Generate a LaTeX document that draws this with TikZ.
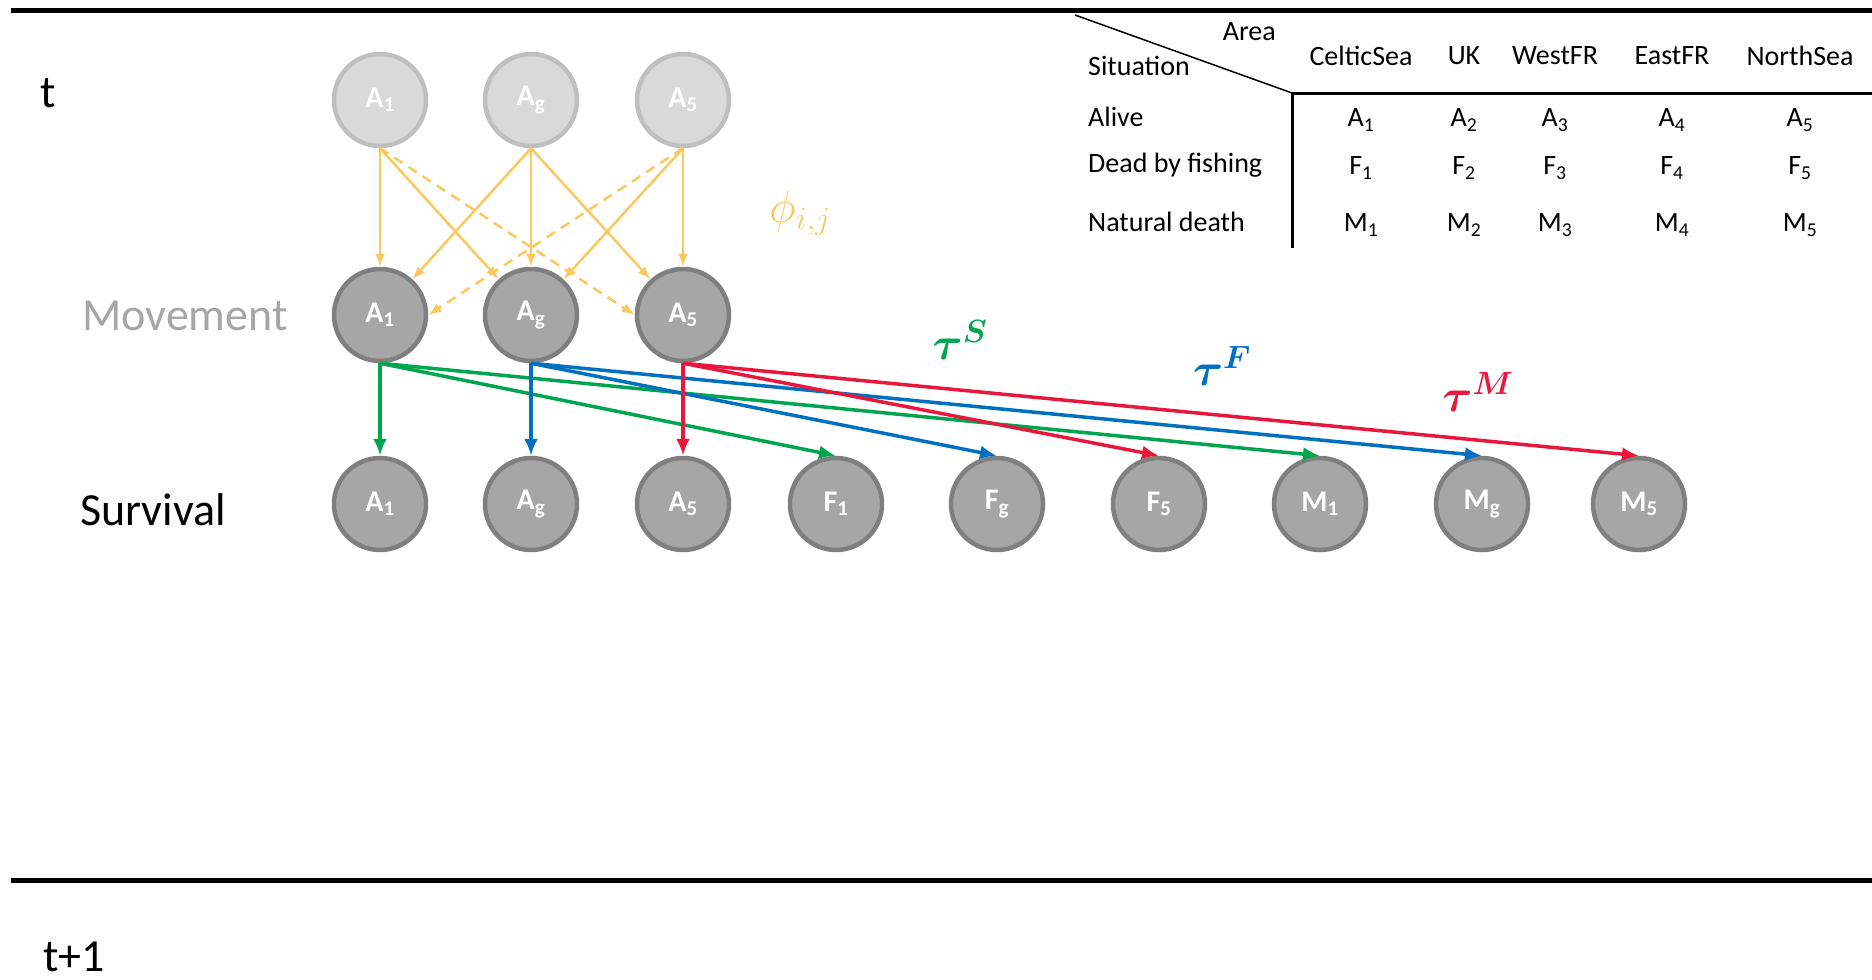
\RequirePackage{fix-cm}
\documentclass[tikz,border=0pt]{standalone}
\usepackage{amsmath,bm}
\usepackage{fontspec}
\setmainfont{Carlito}
\usetikzlibrary{arrows.meta}

\definecolor{phicol}{RGB}{250,200,95}
\definecolor{survgreen}{RGB}{0,165,80}
\definecolor{survblue}{RGB}{0,112,192}
\definecolor{survred}{RGB}{232,24,60}
\definecolor{prevfill}{RGB}{217,217,217}
\definecolor{prevline}{RGB}{191,191,191}
\definecolor{statefill}{RGB}{166,166,166}
\definecolor{stateline}{RGB}{127,127,127}

\tikzset{
  prevnode/.style={circle, minimum size=92pt, inner sep=0pt, fill=prevfill, draw=prevline,
    line width=4.5pt, text=white, font=\fontsize{30}{32}\selectfont\bfseries},
  statenode/.style={prevnode, fill=statefill, draw=stateline},
  movearrow/.style={phicol, line width=2.5pt, -{Latex[length=13pt,width=10pt]}},
  survarrow/.style={line width=3.5pt, -{Latex[length=17pt,width=14pt]}},
  dashline/.style={dash pattern=on 10pt off 7pt},
  biglabel/.style={font=\fontsize{46}{50}\selectfont},
  tabtext/.style={font=\fontsize{28}{30}\selectfont, inner sep=0pt},
}

\begin{document}
\begin{tikzpicture}[x=1pt,y=-1pt]
        \useasboundingbox (0,0) rectangle (1872,980);
        % Time rules
            \draw[line width=5pt] (11,10) -- (1872,10);
            \draw[line width=5pt] (11,880) -- (1872,880);
        % Row labels
            \node[biglabel] (tnow) at (48,93) {t};
            \node[biglabel, text=statefill] (movement) at (185,316) {Movement};
            \node[biglabel] (survival) at (153,510) {Survival};
            \node[biglabel] (tnext) at (74,957) {t+1};
        % States at t
            \node[prevnode] (pA1) at (380,100) {A\textsubscript{1}};
            \node[prevnode] (pAg) at (531,100) {A\textsubscript{g}};
            \node[prevnode] (pA5) at (683,100) {A\textsubscript{5}};
        % States after movement
            \node[statenode] (mA1) at (380,315) {A\textsubscript{1}};
            \node[statenode] (mAg) at (531,315) {A\textsubscript{g}};
            \node[statenode] (mA5) at (683,315) {A\textsubscript{5}};
        % States after survival
            \node[statenode] (sA1) at (380,504) {A\textsubscript{1}};
            \node[statenode] (sAg) at (531,504) {A\textsubscript{g}};
            \node[statenode] (sA5) at (683,504) {A\textsubscript{5}};
            \node[statenode] (sF1) at (836,504) {F\textsubscript{1}};
            \node[statenode] (sFg) at (997,504) {F\textsubscript{g}};
            \node[statenode] (sF5) at (1159,504) {F\textsubscript{5}};
            \node[statenode] (sM1) at (1320,504) {M\textsubscript{1}};
            \node[statenode] (sMg) at (1482,504) {M\textsubscript{g}};
            \node[statenode] (sM5) at (1639,504) {M\textsubscript{5}};
        % Movement arrows
            \draw[movearrow] (pA1.south) -- (mA1);
            \draw[movearrow] (pA1.south) -- (mAg);
            \draw[movearrow, dashline] (pA1.south) -- (mA5.west);
            \draw[movearrow] (pAg.south) -- (mA1);
            \draw[movearrow] (pAg.south) -- (mAg);
            \draw[movearrow] (pAg.south) -- (mA5);
            \draw[movearrow, dashline] (pA5.south) -- (mA1.east);
            \draw[movearrow] (pA5.south) -- (mAg);
            \draw[movearrow] (pA5.south) -- (mA5);
            \node[phicol, font=\fontsize{46}{50}\selectfont] (phi) at (800,213) {$\phi_{i,j}$};
        % Survival arrows
            \draw[survarrow, survgreen] (mA1.south) -- (sA1.north);
            \draw[survarrow, survgreen] (mA1.south) -- (sF1.north);
            \draw[survarrow, survgreen] (mA1.south) -- (sM1.north);
            \draw[survarrow, survblue] (mAg.south) -- (sAg.north);
            \draw[survarrow, survblue] (mAg.south) -- (sFg.north);
            \draw[survarrow, survblue] (mAg.south) -- (sMg.north);
            \draw[survarrow, survred] (mA5.south) -- (sA5.north);
            \draw[survarrow, survred] (mA5.south) -- (sF5.north);
            \draw[survarrow, survred] (mA5.south) -- (sM5.north);
            \node[survgreen, font=\fontsize{46}{50}\selectfont] (tauS) at (960,340) {$\bm{\tau}^{\bm{S}}$};
            \node[survblue, font=\fontsize{46}{50}\selectfont] (tauF) at (1222,366) {$\bm{\tau}^{\bm{F}}$};
            \node[survred, font=\fontsize{46}{50}\selectfont] (tauM) at (1478,392) {$\bm{\tau}^{\bm{M}}$};
        % Table of situations and areas
            \coordinate (tabcorner) at (1292,93);
            \draw[line width=1.5pt] (1075,15) -- (tabcorner);
            \draw[line width=3pt] (tabcorner) -- (1872,93);
            \draw[line width=3pt] (tabcorner) -- (1292,248);
            \node[tabtext, anchor=east] (area) at (1276,32) {Area};
            \node[tabtext, anchor=west] (situation) at (1088,66) {Situation};
            \node[tabtext] (celtic) at (1361,56) {CelticSea};
            \node[tabtext] (uk) at (1464,56) {UK};
            \node[tabtext] (westfr) at (1555,56) {WestFR};
            \node[tabtext] (eastfr) at (1672,56) {EastFR};
            \node[tabtext] (northsea) at (1800,56) {NorthSea};
            \node[tabtext, anchor=west] (alive) at (1088,117) {Alive};
            \node[tabtext, anchor=west] (fishing) at (1088,165) {Dead by fishing};
            \node[tabtext, anchor=west] (natural) at (1088,222) {Natural death};
        % Table values
            \node[tabtext] (a1) at (1361,120) {A\textsubscript{1}};
            \node[tabtext] (a2) at (1464,120) {A\textsubscript{2}};
            \node[tabtext] (a3) at (1555,120) {A\textsubscript{3}};
            \node[tabtext] (a4) at (1672,120) {A\textsubscript{4}};
            \node[tabtext] (a5) at (1800,120) {A\textsubscript{5}};
            \node[tabtext] (f1) at (1361,168) {F\textsubscript{1}};
            \node[tabtext] (f2) at (1464,168) {F\textsubscript{2}};
            \node[tabtext] (f3) at (1555,168) {F\textsubscript{3}};
            \node[tabtext] (f4) at (1672,168) {F\textsubscript{4}};
            \node[tabtext] (f5) at (1800,168) {F\textsubscript{5}};
            \node[tabtext] (m1) at (1361,225) {M\textsubscript{1}};
            \node[tabtext] (m2) at (1464,225) {M\textsubscript{2}};
            \node[tabtext] (m3) at (1555,225) {M\textsubscript{3}};
            \node[tabtext] (m4) at (1672,225) {M\textsubscript{4}};
            \node[tabtext] (m5) at (1800,225) {M\textsubscript{5}};
        \end{tikzpicture}
\end{document}
